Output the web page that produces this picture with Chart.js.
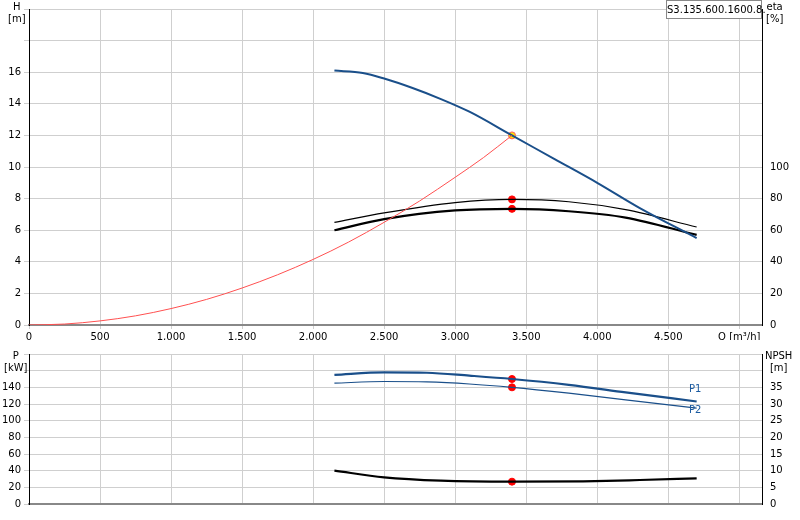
<!DOCTYPE html>
<html><head><meta charset="utf-8">
<script src="https://cdn.jsdelivr.net/npm/chart.js@4/dist/chart.umd.min.js"></script>
<style>
body{margin:0;background:#fff;width:800px;height:520px;position:relative;overflow:hidden;font-family:"DejaVu Sans",sans-serif}
.lbl{position:absolute;font-size:10px;color:#000;text-align:center;line-height:12px}
canvas{position:absolute;left:0}
</style></head><body>
<canvas id="c1" width="800" height="340" style="top:0"></canvas>
<canvas id="c2" width="800" height="175" style="top:345px"></canvas>
<div class="lbl" style="left:8px;top:1px">H<br>[m]</div>
<div class="lbl" style="left:766px;top:1px">eta<br>[%]</div>
<div class="lbl" style="left:4px;top:350px">P<br>[kW]</div>
<div class="lbl" style="left:765px;top:350px">NPSH<br>[m]</div>
<div class="lbl" style="left:666px;top:0px;width:94px;height:17px;border:1px solid #888;line-height:17px;font-size:10px;background:#fff">S3.135.600.1600.8.</div>
<div class="lbl" style="left:689px;top:383px;color:#1a5aa0">P1</div>
<div class="lbl" style="left:689px;top:404px;color:#1a5aa0">P2</div>
<script>
const qH=[2150,2350,2500,2700,2900,3100,3400,3700,4000,4300,4700];
const vH=[16.1,15.95,15.6,15.0,14.3,13.5,12.0,10.5,9.0,7.4,5.5];
const qEta=[2150,2500,3000,3400,3800,4200,4700];
const vEta1=[65,71,77.5,79.5,78,73,62];
const vEta2=[60,67,72.5,73.5,72,68,57];
const qSys=[0,250,500,750,1000,1250,1500,1750,2000,2250,2500,2750,3000,3200,3400];
const vSys=[0,0.06,0.26,0.58,1.04,1.62,2.34,3.18,4.15,5.25,6.5,7.85,9.35,10.6,12.0];
const qP=[2150,2500,2800,3100,3400,3800,4200,4700];
const vP1=[155,158,157.5,154,150,143,134,123];
const vP2=[145,147,146.5,144,140,133,125,115];
const qN=[2150,2500,2900,3400,3900,4300,4700];
const vN=[10,8,7,6.7,6.8,7.2,7.7];
const dutyQ=3400, dutyH=12.0, dutyEta1=79.5, dutyEta2=73.5, dutyP1=150, dutyP2=140, dutyN=6.7;

Chart.defaults.font.family='"DejaVu Sans",sans-serif';
Chart.defaults.font.size=10;
Chart.defaults.color='#000';
Chart.defaults.animation=false;
const fmt=v=>String(v).replace(/\B(?=(\d{3})+(?!\d))/g,',');
const pts=(xs,ys)=>xs.map((x,i)=>({x,y:ys[i]}));
const line=(data,color,w,axis)=>({data,borderColor:color,borderWidth:w,pointRadius:0,showLine:true,fill:false,cubicInterpolationMode:'monotone',yAxisID:axis});
const dot=(x,y,axis,bg,bc)=>({data:[{x,y}],pointRadius:3.5,pointBorderWidth:1,pointBackgroundColor:bg||'red',pointBorderColor:bc||'red',showLine:false,yAxisID:axis});
const grid={color:'#cfcfcf'};
const fixW=w=>(s=>{s.width=w;});
const fixH=h=>(s=>{s.height=h;});
const xt=s=>{s.ticks=[0,500,1000,1500,2000,2500,3000,3500,4000,4500,5000].map(v=>({value:v}));};

new Chart(document.getElementById('c1'),{type:'scatter',
data:{datasets:[
 line(pts(qSys,vSys),'#ff5050',1,'y'),
 line(pts(qH,vH),'#1a4f8a',2,'y'),
 line(pts(qEta,vEta1),'#000',1.2,'y2'),
 line(pts(qEta,vEta2),'#000',2.2,'y2'),
 dot(dutyQ,dutyEta1,'y2'),dot(dutyQ,dutyEta2,'y2'),
 dot(dutyQ,dutyH,'y','#ffe000','#ff6060')
]},
options:{responsive:false,plugins:{legend:{display:false},tooltip:{enabled:false}},
 layout:{padding:{top:-7,left:0,right:0,bottom:0}},
 scales:{
  x:{type:'linear',min:0,max:5160,afterFit:fixH(15),afterBuildTicks:xt,
     ticks:{maxRotation:0,padding:2,callback:v=>v===5000?'Q [m³/h]':fmt(v)},grid:{...grid,tickLength:4},border:{color:'#888',width:2}},
  y:{min:0,max:20,afterFit:fixW(29),ticks:{stepSize:2,callback:v=>v>16?'':v},grid:{...grid,tickLength:5},border:{color:'#000'}},
  y2:{position:'right',min:0,max:200,afterFit:fixW(38),ticks:{stepSize:20,callback:v=>v>100?'':v},grid:{display:false,tickLength:5},border:{color:'#000'}}
 }}});

new Chart(document.getElementById('c2'),{type:'scatter',
data:{datasets:[
 line(pts(qP,vP1),'#1a4f8a',2.2,'y'),
 line(pts(qP,vP2),'#1a4f8a',1.2,'y'),
 line(pts(qN,vN),'#000',2.2,'y2'),
 dot(dutyQ,dutyP1,'y'),dot(dutyQ,dutyP2,'y'),dot(dutyQ,dutyN,'y2')
]},
options:{responsive:false,plugins:{legend:{display:false},tooltip:{enabled:false}},
 layout:{padding:{top:0,left:0,right:0,bottom:0}},
 scales:{
  x:{type:'linear',min:0,max:5160,afterFit:fixH(16),afterBuildTicks:xt,
     ticks:{display:false},grid:{...grid,tickLength:0},border:{color:'#888',width:2}},
  y:{min:0,max:180,afterFit:fixW(29),ticks:{stepSize:20,callback:v=>v>140?'':v},grid:{...grid,tickLength:5},border:{color:'#000'}},
  y2:{position:'right',min:0,max:45,afterFit:fixW(38),ticks:{stepSize:5,callback:v=>v>35?'':v},grid:{display:false,tickLength:5},border:{color:'#000'}}
 }}});
</script></body></html>
